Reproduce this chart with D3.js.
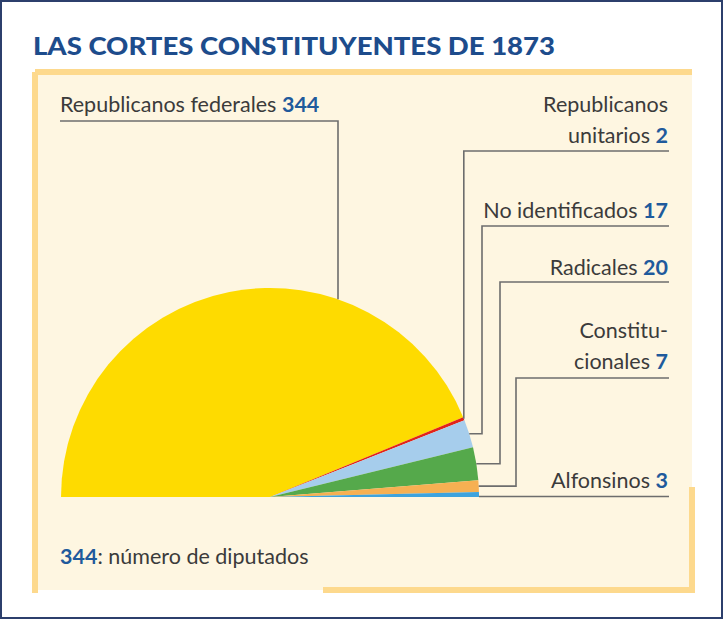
<!DOCTYPE html>
<html>
<head>
<meta charset="utf-8">
<script src="https://d3js.org/d3.v7.min.js"></script>
<style>
    body { margin: 0; background: #fff; }
    svg { display: block; }
    .label { font-family: Lato, "Open Sans", sans-serif; font-size: 21.5px; fill: #3b3b3b; }
    .num { font-weight: 700; fill: #1f5a9c; }
    .title { font-family: Lato, "Open Sans", sans-serif; font-weight: 900; font-size: 25px; fill: #1d4c8c; }
</style>
</head>
<body>
<script>
// Chart data
var parties = ["Republicanos federales", "Republicanos unitarios", "No identificados", "Radicales", "Constitucionales", "Alfonsinos"];
var seats = [344, 2, 17, 20, 7, 3];
// Text lines of each label (the last line gets the number)
var labelLines = [
    ["Republicanos federales"],
    ["Republicanos", "unitarios"],
    ["No identificados"],
    ["Radicales"],
    ["Constitu-", "cionales"],
    ["Alfonsinos"]
];
var sliceColors = ["#fedb00", "#e2231a", "#a6cdec", "#55a94b", "#f6b052", "#3da3de"];

window.onload = function(){

    var w = 723, h = 622;

    var svg = d3.select("body")
        .append("svg")
        .attr("width", w)
        .attr("height", h)
        .attr("class", "container");

    // Outer frame
    svg.append("rect")
        .attr("x", 1).attr("y", 1)
        .attr("width", w - 2).attr("height", 617)
        .style("fill", "#fff")
        .style("stroke", "#2c3f6c")
        .style("stroke-width", 2);

    // Cream panel
    svg.append("rect")
        .attr("x", 35).attr("y", 72)
        .attr("width", 657).attr("height", 518)
        .style("fill", "#fef6e1");

    // Panel border pieces (open on the lower left and right middle)
    var border = [
        [[35, 72], [692, 72]],
        [[35, 72], [35, 593]],
        [[323, 590], [692, 590]],
        [[692, 487], [692, 593]]
    ];
    svg.selectAll(".border")
        .data(border)
        .enter()
        .append("path")
        .attr("class", "border")
        .attr("d", function(d){ return d3.line()(d); })
        .style("fill", "none")
        .style("stroke", "#fdd98d")
        .style("stroke-width", 6);

    // Title
    svg.append("text")
        .attr("class", "title")
        .attr("x", 33)
        .attr("y", 55)
        .attr("textLength", 522)
        .attr("lengthAdjust", "spacingAndGlyphs")
        .text("LAS CORTES CONSTITUYENTES DE 1873");

    // Half pie geometry
    var cx = 270, cy = 497, r = 209;

    var color = d3.scaleOrdinal()
        .domain(parties)
        .range(sliceColors);

    var pie = d3.pie()
        .sort(null)
        .startAngle(-Math.PI / 2)
        .endAngle(Math.PI / 2);

    var arcs = pie(seats);

    var arc = d3.arc()
        .innerRadius(0)
        .outerRadius(r);

    var chart = svg.append("g")
        .attr("class", "chart")
        .attr("transform", "translate(" + cx + "," + cy + ")");

    chart.selectAll(".slice")
        .data(arcs)
        .enter()
        .append("path")
        .attr("class", "slice")
        .attr("d", arc)
        .style("fill", function(d, i){ return color(parties[i]); });

    // Point on the rim at the middle of a slice
    function rimPoint(d){
        var a = (d.startAngle + d.endAngle) / 2;
        return [cx + r * Math.sin(a), cy - r * Math.cos(a)];
    }

    // Label layout: text anchor, baseline of last line, underline y, vertical leader x
    var layout = [
        {anchor: "start", x: 60, y: 112, lineY: 121, x0: 60, x1: 338, vx: 338},
        {anchor: "end", x: 668, y: 143, lineY: 151, x0: 464, x1: 669, vx: null},
        {anchor: "end", x: 668, y: 218, lineY: 226, x0: 482, x1: 669, vx: 482},
        {anchor: "end", x: 668, y: 275, lineY: 282, x0: 500, x1: 669, vx: 500},
        {anchor: "end", x: 668, y: 369, lineY: 378, x0: 516, x1: 669, vx: 516},
        {anchor: "end", x: 668, y: 488, lineY: null, x0: null, x1: 669, vx: null}
    ];

    var lineH = 31;
    var leaderColor = "#6d6d6d";

    arcs.forEach(function(d, i){
        var L = layout[i];
        var lines = labelLines[i];
        var p = rimPoint(d);
        var pts;

        if (i === 0) {
            // Vertical leader meets the rim straight below the underline end
            var py = cy - Math.sqrt(r * r - (L.vx - cx) * (L.vx - cx));
            pts = [[L.x0, L.lineY], [L.vx, L.lineY], [L.vx, py]];
        } else if (L.lineY === null) {
            // Straight underline from the rim
            pts = [[p[0], p[1] + 2], [L.x1, p[1] + 2]];
        } else if (L.vx === null) {
            pts = [[L.x1, L.lineY], [p[0], L.lineY], [p[0], p[1]]];
        } else {
            pts = [[L.x1, L.lineY], [L.vx, L.lineY], [L.vx, p[1]], [p[0], p[1]]];
        }

        svg.append("path")
            .attr("class", "leader")
            .attr("d", d3.line()(pts))
            .style("fill", "none")
            .style("stroke", leaderColor)
            .style("stroke-width", 1.6);

        var text = svg.append("text")
            .attr("class", "label")
            .attr("text-anchor", L.anchor)
            .attr("x", L.x)
            .attr("y", L.y - (lines.length - 1) * lineH);

        lines.forEach(function(line, j){
            var t = text.append("tspan")
                .attr("x", L.x)
                .attr("dy", j === 0 ? 0 : lineH);
            t.append("tspan").text(line + (j === lines.length - 1 ? " " : ""));
            if (j === lines.length - 1) {
                t.append("tspan").attr("class", "num").text(seats[i]);
            }
        });
    });

    // Footnote
    var note = svg.append("text")
        .attr("class", "label")
        .attr("x", 60)
        .attr("y", 564);
    note.append("tspan").attr("class", "num").text(seats[0]);
    note.append("tspan").text(": número de diputados");
};
</script>
</body>
</html>
